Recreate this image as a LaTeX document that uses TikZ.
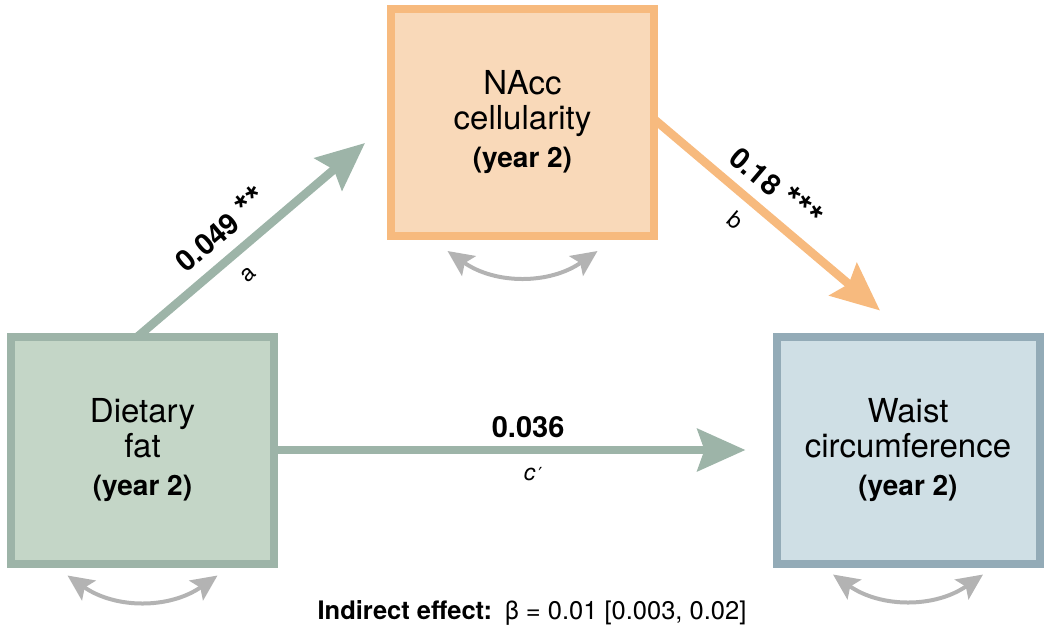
\documentclass[tikz,border=0pt]{standalone}
\usepackage{fontspec}
\setmainfont{TeX Gyre Heros}
\newfontfamily\symfont{DejaVu Sans}
\usetikzlibrary{arrows.meta,calc}
\pgfdeclarelayer{bg}
\pgfsetlayers{bg,main}
\definecolor{grnB}{HTML}{9DB4A8}
\definecolor{grnF}{HTML}{C4D6C7}
\definecolor{orgB}{HTML}{F7BA7E}
\definecolor{orgF}{HTML}{F9D9B9}
\definecolor{bluB}{HTML}{93ABB7}
\definecolor{bluF}{HTML}{CFDFE5}
\definecolor{arcG}{HTML}{B3B3B3}
\newcommand{\stars}[1]{{\fontsize{38}{38}\selectfont\raisebox{-2pt}{#1}}}
\begin{document}
\begin{tikzpicture}[x=1pt,y=-1pt,
  box/.style={draw, line width=8pt, minimum width=263pt, minimum height=227pt,
    inner sep=0pt, align=center, font=\fontsize{33}{35}\selectfont},
  mainarrow/.style={line width=8.5pt, shorten <=-8pt,
    -{Stealth[length=48pt,width=42pt,inset=7pt]}},
  swing/.style={draw=arcG, line width=4pt,
    {Stealth[length=26pt,width=24pt,inset=5pt]}-{Stealth[length=26pt,width=24pt,inset=5pt]}},
  coef/.style={font=\bfseries\fontsize{29}{31}\selectfont, inner sep=0pt, sloped},
  path lbl/.style={font=\fontsize{23}{25}\selectfont, inner sep=0pt, sloped}
]
\useasboundingbox (0,0) rectangle (1050,635);

\node[box, draw=grnB, fill=grnF] (diet) at (142.5,450)
  {Dietary\\fat\\[3pt]{\bfseries\fontsize{28}{30}\selectfont (year 2)}};
\node[box, draw=orgB, fill=orgF] (nacc) at (522.5,122.5)
  {NAcc\\cellularity\\[3pt]{\bfseries\fontsize{28}{30}\selectfont (year 2)}};
\node[box, draw=bluB, fill=bluF] (waist) at (908,450)
  {Waist\\circumference\\[3pt]{\bfseries\fontsize{28}{30}\selectfont (year 2)}};

\coordinate (atip) at ($(nacc.west)+(-22,20.5)$);
\coordinate (btip) at ($(waist.north)+(-28,-22)$);
\coordinate (ctip) at ($(waist.west)+(-27,0)$);

\begin{pgfonlayer}{bg}
\draw[mainarrow, draw=grnB, fill=grnB] (diet.north) --
  node[coef, pos=0.434, above=10pt] {0.049 \stars{**}}
  node[path lbl, pos=0.405, below=14pt] {a} (atip);
\draw[mainarrow, draw=orgB, fill=orgB] (nacc.east) --
  node[coef, pos=0.455, above=9pt] {0.18 \stars{***}}
  node[path lbl, pos=0.42, below=12pt] {b} (btip);
\draw[mainarrow, draw=grnB, fill=grnB] (diet.east) --
  node[coef, pos=0.535, above=8pt] {0.036}
  node[path lbl, pos=0.546, below=13pt] {\itshape c\kern3pt{\upshape\symfont\fontsize{18}{20}\selectfont ′}} (ctip);
\end{pgfonlayer}

\coordinate (d1) at ($(diet.south)+(-75,8)$);
\coordinate (d2) at ($(diet.south)+(75,8)$);
\coordinate (n1) at ($(nacc.south)+(-75,11)$);
\coordinate (n2) at ($(nacc.south)+(75,11)$);
\coordinate (w1) at ($(waist.south)+(-75,7)$);
\coordinate (w2) at ($(waist.south)+(75,7)$);
\draw[swing] (d1) to[bend right=35] (d2);
\draw[swing] (n1) to[bend right=35] (n2);
\draw[swing] (w1) to[bend right=35] (w2);

\node[font=\fontsize{25.5}{27}\selectfont, inner sep=0pt] (ind) at (532,613)
  {\textbf{Indirect effect:}\enspace β = 0.01 [0.003, 0.02]};
\end{tikzpicture}
\end{document}
